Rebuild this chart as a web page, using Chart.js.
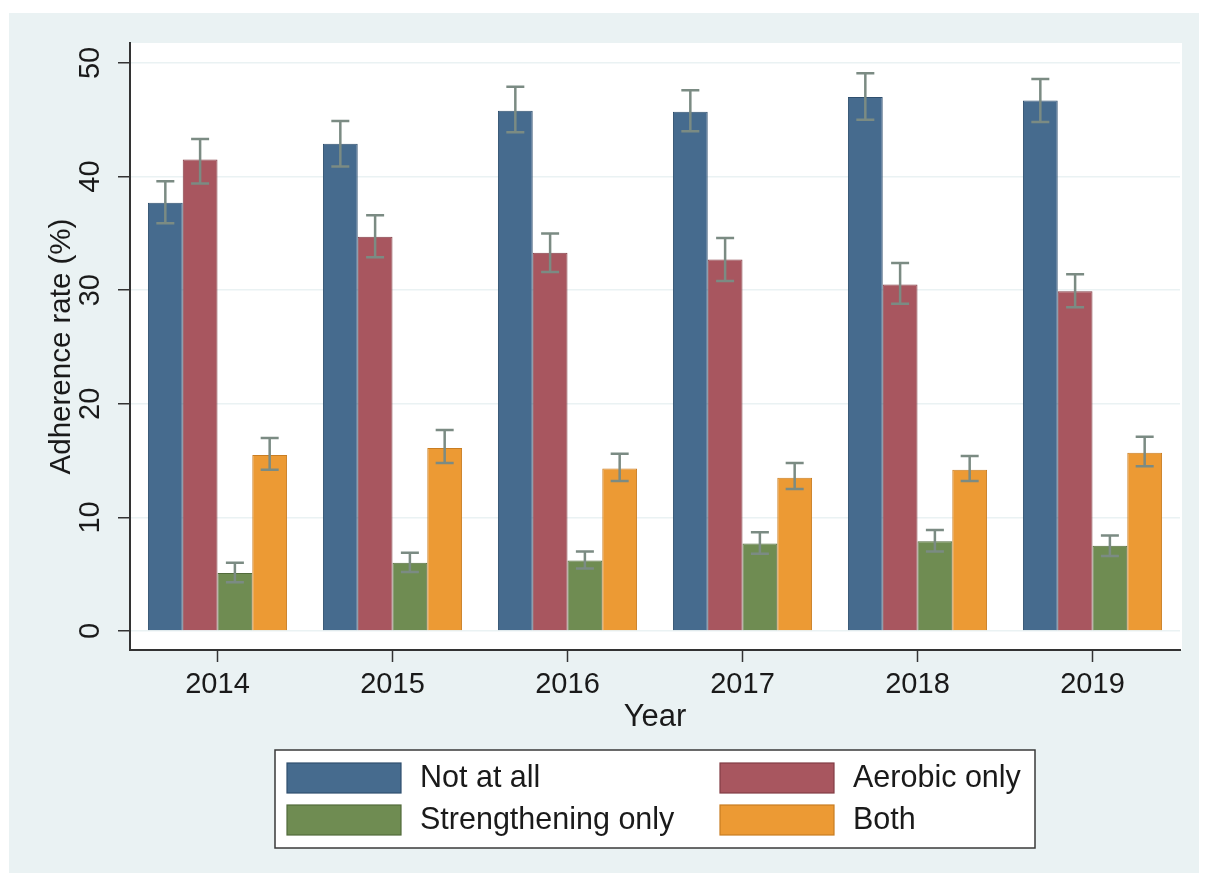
<!DOCTYPE html>
<html>
<head>
<meta charset="utf-8">
<script src="https://cdn.jsdelivr.net/npm/chart.js@4"></script>
<style>
  body { margin: 0; background: #fff; }
  #wrap { position: absolute; left: 9px; top: 13px; width: 1190px; height: 860px; background: #eaf2f3; }
  canvas { display: block; }
</style>
</head>
<body>
<div id="wrap"><canvas id="grafico" width="1190" height="860"></canvas></div>
<script>
// Dados
const years = ['2014', '2015', '2016', '2017', '2018', '2019'];
const seriesNames = ['Not at all', 'Aerobic only', 'Strengthening only', 'Both'];

const notAtAll   = [37.7, 42.9, 45.8, 45.7, 47.0, 46.7];
const notAtAllLo = [35.9, 40.9, 43.9, 44.0, 45.0, 44.8];
const notAtAllHi = [39.6, 44.9, 47.9, 47.6, 49.1, 48.6];

const aerobic   = [41.5, 34.7, 33.3, 32.7, 30.5, 29.9];
const aerobicLo = [39.4, 32.9, 31.6, 30.8, 28.8, 28.5];
const aerobicHi = [43.3, 36.6, 35.0, 34.6, 32.4, 31.4];

const strength   = [5.1, 6.0, 6.2, 7.7, 7.9, 7.5];
const strengthLo = [4.3, 5.2, 5.5, 6.8, 7.0, 6.6];
const strengthHi = [6.0, 6.9, 7.0, 8.7, 8.9, 8.4];

const both   = [15.5, 16.1, 14.3, 13.5, 14.2, 15.7];
const bothLo = [14.2, 14.8, 13.2, 12.5, 13.2, 14.5];
const bothHi = [17.0, 17.7, 15.6, 14.8, 15.4, 17.1];

const yTicks = [0, 10, 20, 30, 40, 50];

const fill   = ['#466b8e', '#a8565f', '#6f8c52', '#ec9a34'];
const stroke = ['#2f4f6e', '#823d45', '#526b3b', '#c97d22'];
const FONT = 'Liberation Sans, Arial, sans-serif';

const values = [notAtAll, aerobic, strength, both];
const lows = [notAtAllLo, aerobicLo, strengthLo, bothLo];
const highs = [notAtAllHi, aerobicHi, strengthHi, bothHi];

// fundo branco da área do gráfico
const plotBg = {
  id: 'plotBg',
  beforeDraw(chart) {
    const { ctx, chartArea: a } = chart;
    ctx.save();
    ctx.fillStyle = '#ffffff';
    ctx.fillRect(a.left, a.top, a.right - a.left + 2, a.bottom - a.top);
    ctx.restore();
  }
};

// barras de erro
const errorBars = {
  id: 'errorBars',
  afterDatasetsDraw(chart) {
    const { ctx } = chart;
    const y = chart.scales.y;
    ctx.save();
    ctx.strokeStyle = '#7b8b83';
    ctx.lineWidth = 2.5;
    chart.data.datasets.forEach((ds, i) => {
      chart.getDatasetMeta(i).data.forEach((bar, j) => {
        const yl = y.getPixelForValue(lows[i][j]);
        const yh = y.getPixelForValue(highs[i][j]);
        const x = bar.x;
        ctx.beginPath();
        ctx.moveTo(x, yl); ctx.lineTo(x, yh);
        ctx.moveTo(x - 9, yl); ctx.lineTo(x + 9, yl);
        ctx.moveTo(x - 9, yh); ctx.lineTo(x + 9, yh);
        ctx.stroke();
      });
    });
    ctx.restore();
  }
};

// legenda em caixa 2x2
const boxLegend = {
  id: 'boxLegend',
  afterDraw(chart) {
    const { ctx, chartArea: a } = chart;
    const xs = chart.scales.x;
    const w = 760, h = 98;
    const left = (a.left + a.right) / 2 - w / 2;
    const top = xs.bottom;
    ctx.save();
    ctx.fillStyle = '#ffffff';
    ctx.fillRect(left, top, w, h);
    ctx.strokeStyle = '#3a3a3a';
    ctx.lineWidth = 1.5;
    ctx.strokeRect(left, top, w, h);
    ctx.font = '30.5px ' + FONT;
    ctx.textBaseline = 'middle';
    ctx.fillStyle = '#1a1a1a';
    chart.data.datasets.forEach((ds, i) => {
      const col = i % 2, row = Math.floor(i / 2);
      const sx = left + (col === 0 ? 12 : 445);
      const sy = top + 13 + row * 42;
      ctx.fillStyle = ds.backgroundColor;
      ctx.fillRect(sx, sy, 114, 30);
      ctx.strokeStyle = ds.borderColor;
      ctx.lineWidth = 1.2;
      ctx.strokeRect(sx, sy, 114, 30);
      ctx.fillStyle = '#1a1a1a';
      ctx.fillText(ds.label, sx + 133, sy + 16);
    });
    ctx.restore();
  }
};

new Chart(document.getElementById('grafico'), {
  type: 'bar',
  data: {
    labels: years,
    datasets: seriesNames.map((name, i) => ({
      label: name,
      data: values[i],
      backgroundColor: fill[i],
      borderColor: stroke[i],
      borderWidth: 1,
      categoryPercentage: 0.795,
      barPercentage: 1
    }))
  },
  options: {
    responsive: false,
    animation: false,
    layout: { padding: { left: 0, top: 30, right: 19, bottom: 123 } },
    plugins: {
      legend: { display: false },
      tooltip: { enabled: false }
    },
    scales: {
      x: {
        afterFit: s => { s.height = 100; },
        grid: { display: true, drawOnChartArea: false, offset: false, tickLength: 12, tickColor: '#333', tickWidth: 1.5 },
        border: { color: '#333', width: 2 },
        ticks: { color: '#1a1a1a', font: { family: FONT, size: 29 }, padding: 6, maxRotation: 0 },
        title: { display: true, text: 'Year', color: '#1a1a1a', font: { family: FONT, size: 31 }, padding: { top: 0, bottom: 14 } }
      },
      y: {
        min: -1.67,
        max: 51.76,
        afterFit: s => { s.width = 121; },
        afterBuildTicks: s => { s.ticks = yTicks.map(v => ({ value: v })); },
        grid: { color: '#eaf2f3', lineWidth: 1.5, tickLength: 12, tickColor: '#333', tickWidth: 1.5 },
        border: { color: '#333', width: 2 },
        ticks: { color: '#1a1a1a', font: { family: FONT, size: 29 }, padding: 11, minRotation: 90, maxRotation: 90, crossAlign: 'center' },
        title: { display: true, text: 'Adherence rate (%)', color: '#1a1a1a', font: { family: FONT, size: 29.5 }, padding: { top: 35, bottom: 0 } }
      }
    }
  },
  plugins: [plotBg, errorBars, boxLegend]
});
</script>
</body>
</html>
